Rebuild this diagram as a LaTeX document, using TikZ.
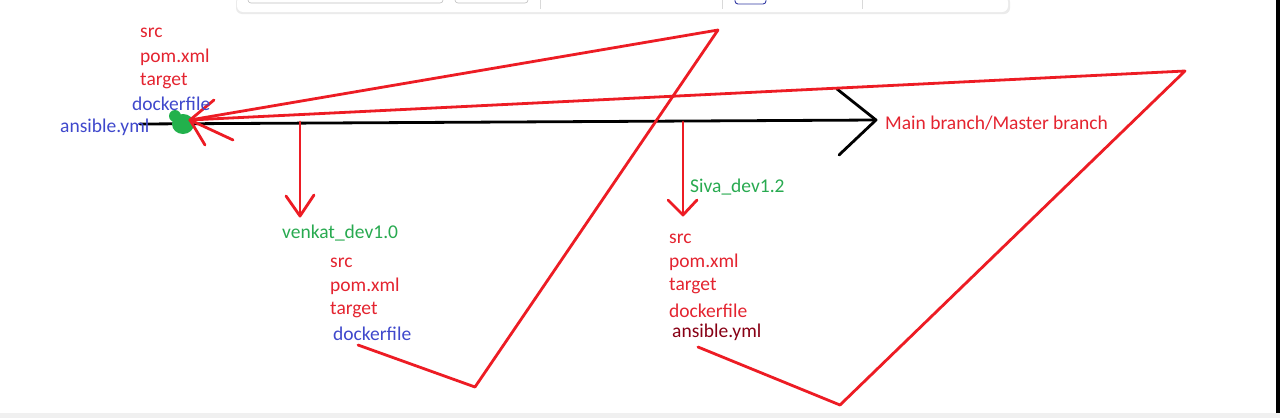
\documentclass[tikz,border=0pt]{standalone}
\usepackage{fontspec}
\setmainfont{Carlito}
\definecolor{pred}{RGB}{237,28,36}
\definecolor{tred}{RGB}{228,36,48}
\definecolor{pgreen}{RGB}{34,177,76}
\definecolor{tgreen}{RGB}{40,170,80}
\definecolor{pblue}{RGB}{63,72,204}
\definecolor{pdark}{RGB}{136,0,21}
\begin{document}
\begin{tikzpicture}[x=1pt,y=-1pt,
  lbl/.style={anchor=west,inner sep=0pt,yshift=-1.5pt,font=\fontsize{19.5}{22}\selectfont},
  redline/.style={draw=pred,line width=2.8pt,line cap=round,line join=round},
  blackline/.style={draw=black,line width=2.8pt,line cap=round,line join=round},
  bar/.style={draw=black!25,line width=0.6pt,rounded corners=3pt}]
\useasboundingbox (0,0) rectangle (1280,418);
\fill[white] (0,0) rectangle (1280,418);
% window chrome
\fill[black!6] (0,413) rectangle (1280,418);
\fill[black] (1276,0) rectangle (1280,413);
\fill[black!8] (236,-4) [rounded corners=6pt] rectangle (1010,14);
\fill[white] (237,-4) [rounded corners=6pt] rectangle (1008,12);
\draw[bar] (248,-6) rectangle (443,3);
\draw[bar] (455,-6) rectangle (528,3);
\draw[black!15,line width=0.6pt] (540,0) -- (540,9);
\draw[black!15,line width=0.6pt] (722,0) -- (722,9);
\draw[black!15,line width=0.6pt] (862,0) -- (862,9);
\draw[draw=pblue!80!black,line width=0.9pt,rounded corners=3pt] (735,-6) rectangle (766,4);

% coordinates
\coordinate (mstart) at (140,124);
\coordinate (mtip) at (876,120);
\coordinate (mh1) at (837,89);
\coordinate (mh2) at (839,155);
\coordinate (hub) at (190,120);
\coordinate (peak1) at (718,30);
\coordinate (peak2) at (1185,71);
\coordinate (v1) at (475,387);
\coordinate (v2) at (840,405);
\coordinate (s1) at (358,345);
\coordinate (s2) at (698,347);
\coordinate (hA) at (214,100);
\coordinate (hB) at (233,140);
\coordinate (hC) at (205,145);
\coordinate (b1) at (300,122);
\coordinate (b1e) at (300,216);
\coordinate (b1l) at (286,196);
\coordinate (b1r) at (314,195);
\coordinate (b2) at (683,122);
\coordinate (b2e) at (683,215);
\coordinate (b2l) at (668,200);
\coordinate (b2r) at (697,200);

% main branch
\draw[blackline] (mstart) -- (mtip);
\draw[blackline] (mh1) -- (mtip) -- (mh2);

% green commit blob
\fill[pgreen] (183,124) ellipse (11pt and 10pt);
\fill[pgreen] (175,116) circle (6pt);

% branch arrows
\draw[redline] (b1) -- (b1e);
\draw[redline] (b1l) -- (b1e) -- (b1r);
\draw[redline] (b2) -- (b2e);
\draw[redline] (b2l) -- (b2e) -- (b2r);

% merge lines
\draw[redline] (s1) -- (v1) -- (peak1) -- (hub);
\draw[redline] (s2) -- (v2) -- (peak2) -- (hub);
\draw[redline] (hA) -- (hub) -- (hB);
\draw[redline] (hC) -- (hub);

% labels
\node[lbl,text=tred] (msrc) at (140,31) {src};
\node[lbl,text=tred] (mpom) at (140,56) {pom.xml};
\node[lbl,text=tred] (mtarget) at (140,80) {target};
\node[lbl,text=pblue] (mdocker) at (132,102) {dockerfile};
\node[lbl,text=pblue] (mansible) at (60,126) {ansible.yml};
\node[lbl,text=tred] (mainlbl) at (885,122) {Main branch/Master branch};

\node[lbl,text=tgreen] (venkat) at (282,232) {venkat\_dev1.0};
\node[lbl,text=tred] (vsrc) at (330,261) {src};
\node[lbl,text=tred] (vpom) at (330,285) {pom.xml};
\node[lbl,text=tred] (vtarget) at (330,309) {target};
\node[lbl,text=pblue] (vdocker) at (333,332) {dockerfile};

\node[lbl,text=tgreen] (siva) at (690,186) {Siva\_dev1.2};
\node[lbl,text=tred] (ssrc) at (669,237) {src};
\node[lbl,text=tred] (spom) at (669,261) {pom.xml};
\node[lbl,text=tred] (starget) at (669,285) {target};
\node[lbl,text=tred] (sdocker) at (669,309) {dockerfile};
\node[lbl,text=pdark] (sansible) at (672,331) {ansible.yml};
\end{tikzpicture}
\end{document}
